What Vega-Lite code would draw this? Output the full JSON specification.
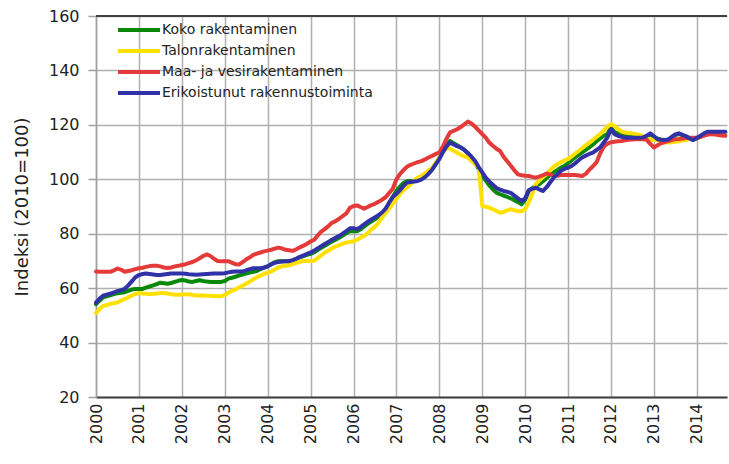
{
  "$schema": "https://vega.github.io/schema/vega-lite/v6.json",
  "width": 631,
  "height": 381,
  "autosize": {"type": "none"},
  "padding": {"left": 96, "top": 16, "right": 2, "bottom": 67},
  "background": "white",
  "config": {"font": "DejaVu Sans", "view": {"stroke": null}},
  "datasets": {
    "names": [
      {"k": "G", "name": "Koko rakentaminen"},
      {"k": "Y", "name": "Talonrakentaminen"},
      {"k": "R", "name": "Maa- ja vesirakentaminen"},
      {"k": "B", "name": "Erikoistunut rakennustoiminta"}
    ],
    "idx": [
      {"d":"2000-01","G":54.1,"Y":50.9,"R":66.1,"B":54.7},
      {"d":"2000-02","G":55.5,"Y":52.3,"R":66.0,"B":56.2},
      {"d":"2000-03","G":56.6,"Y":53.4,"R":66.0,"B":57.2},
      {"d":"2000-04","G":57.0,"Y":53.8,"R":66.0,"B":57.6},
      {"d":"2000-05","G":57.4,"Y":54.2,"R":66.0,"B":58.0},
      {"d":"2000-06","G":57.8,"Y":54.5,"R":66.5,"B":58.4},
      {"d":"2000-07","G":58.1,"Y":54.7,"R":67.2,"B":58.9},
      {"d":"2000-08","G":58.3,"Y":55.4,"R":66.8,"B":59.3},
      {"d":"2000-09","G":58.5,"Y":56.0,"R":66.0,"B":59.7},
      {"d":"2000-10","G":59.0,"Y":56.6,"R":66.3,"B":61.0},
      {"d":"2000-11","G":59.5,"Y":57.3,"R":66.6,"B":62.5},
      {"d":"2000-12","G":59.7,"Y":57.8,"R":67.0,"B":64.0},
      {"d":"2001-01","G":59.7,"Y":58.2,"R":67.3,"B":64.8},
      {"d":"2001-02","G":59.7,"Y":58.0,"R":67.5,"B":65.2},
      {"d":"2001-03","G":60.2,"Y":57.9,"R":67.8,"B":65.4},
      {"d":"2001-04","G":60.6,"Y":57.8,"R":68.1,"B":65.2},
      {"d":"2001-05","G":61.0,"Y":57.9,"R":68.2,"B":65.0},
      {"d":"2001-06","G":61.5,"Y":58.0,"R":68.2,"B":64.8},
      {"d":"2001-07","G":62.0,"Y":58.2,"R":68.0,"B":64.8},
      {"d":"2001-08","G":61.8,"Y":58.2,"R":67.6,"B":65.0},
      {"d":"2001-09","G":61.6,"Y":58.0,"R":67.4,"B":65.2},
      {"d":"2001-10","G":61.9,"Y":57.8,"R":67.6,"B":65.4},
      {"d":"2001-11","G":62.3,"Y":57.6,"R":68.0,"B":65.4},
      {"d":"2001-12","G":62.7,"Y":57.6,"R":68.2,"B":65.4},
      {"d":"2002-01","G":63.0,"Y":57.7,"R":68.5,"B":65.4},
      {"d":"2002-02","G":62.8,"Y":57.8,"R":68.8,"B":65.3},
      {"d":"2002-03","G":62.4,"Y":57.8,"R":69.2,"B":65.1},
      {"d":"2002-04","G":62.3,"Y":57.5,"R":69.6,"B":65.0},
      {"d":"2002-05","G":62.6,"Y":57.3,"R":70.2,"B":64.9},
      {"d":"2002-06","G":62.9,"Y":57.3,"R":71.0,"B":65.0},
      {"d":"2002-07","G":62.6,"Y":57.3,"R":71.8,"B":65.1},
      {"d":"2002-08","G":62.4,"Y":57.2,"R":72.4,"B":65.2},
      {"d":"2002-09","G":62.3,"Y":57.2,"R":71.8,"B":65.3},
      {"d":"2002-10","G":62.3,"Y":57.1,"R":70.8,"B":65.4},
      {"d":"2002-11","G":62.3,"Y":57.0,"R":70.0,"B":65.4},
      {"d":"2002-12","G":62.3,"Y":57.0,"R":69.9,"B":65.4},
      {"d":"2003-01","G":62.6,"Y":57.5,"R":69.9,"B":65.5},
      {"d":"2003-02","G":63.5,"Y":58.3,"R":69.9,"B":65.8},
      {"d":"2003-03","G":63.8,"Y":59.0,"R":69.4,"B":66.0},
      {"d":"2003-04","G":64.2,"Y":59.5,"R":68.8,"B":66.1},
      {"d":"2003-05","G":64.6,"Y":60.2,"R":68.7,"B":66.1},
      {"d":"2003-06","G":65.0,"Y":60.9,"R":69.5,"B":66.1},
      {"d":"2003-07","G":65.4,"Y":61.6,"R":70.5,"B":66.5},
      {"d":"2003-08","G":65.7,"Y":62.4,"R":71.3,"B":67.0},
      {"d":"2003-09","G":66.0,"Y":63.3,"R":72.2,"B":67.3},
      {"d":"2003-10","G":66.3,"Y":64.0,"R":72.7,"B":67.3},
      {"d":"2003-11","G":67.0,"Y":64.6,"R":73.1,"B":67.3},
      {"d":"2003-12","G":67.6,"Y":65.2,"R":73.5,"B":67.5},
      {"d":"2004-01","G":68.0,"Y":65.7,"R":73.8,"B":68.0},
      {"d":"2004-02","G":68.8,"Y":66.1,"R":74.1,"B":68.8},
      {"d":"2004-03","G":69.5,"Y":66.8,"R":74.5,"B":69.3},
      {"d":"2004-04","G":69.9,"Y":67.6,"R":74.9,"B":69.6},
      {"d":"2004-05","G":69.9,"Y":68.0,"R":74.6,"B":69.8},
      {"d":"2004-06","G":69.9,"Y":68.2,"R":74.1,"B":69.9},
      {"d":"2004-07","G":69.9,"Y":68.4,"R":73.9,"B":69.9},
      {"d":"2004-08","G":70.2,"Y":68.8,"R":73.7,"B":70.3},
      {"d":"2004-09","G":70.8,"Y":69.3,"R":74.3,"B":70.8},
      {"d":"2004-10","G":71.3,"Y":69.7,"R":75.0,"B":71.5},
      {"d":"2004-11","G":71.8,"Y":70.0,"R":75.6,"B":72.0},
      {"d":"2004-12","G":72.2,"Y":70.0,"R":76.3,"B":72.6},
      {"d":"2005-01","G":72.6,"Y":70.0,"R":77.2,"B":73.1},
      {"d":"2005-02","G":73.2,"Y":70.1,"R":77.8,"B":73.8},
      {"d":"2005-03","G":74.0,"Y":71.0,"R":79.3,"B":74.6},
      {"d":"2005-04","G":74.8,"Y":72.0,"R":80.8,"B":75.4},
      {"d":"2005-05","G":75.6,"Y":73.1,"R":81.7,"B":76.2},
      {"d":"2005-06","G":76.4,"Y":73.8,"R":82.8,"B":77.0},
      {"d":"2005-07","G":77.1,"Y":74.6,"R":84.0,"B":77.8},
      {"d":"2005-08","G":77.8,"Y":75.3,"R":84.6,"B":78.5},
      {"d":"2005-09","G":78.5,"Y":75.8,"R":85.5,"B":79.2},
      {"d":"2005-10","G":79.3,"Y":76.3,"R":86.5,"B":80.0},
      {"d":"2005-11","G":80.2,"Y":76.8,"R":87.5,"B":81.0},
      {"d":"2005-12","G":80.9,"Y":77.0,"R":89.5,"B":82.0},
      {"d":"2006-01","G":81.0,"Y":77.2,"R":90.2,"B":82.0},
      {"d":"2006-02","G":80.9,"Y":77.8,"R":90.4,"B":81.7},
      {"d":"2006-03","G":81.6,"Y":78.5,"R":89.8,"B":82.4},
      {"d":"2006-04","G":82.6,"Y":79.2,"R":89.2,"B":83.4},
      {"d":"2006-05","G":83.6,"Y":80.2,"R":89.8,"B":84.4},
      {"d":"2006-06","G":84.5,"Y":81.5,"R":90.5,"B":85.2},
      {"d":"2006-07","G":85.3,"Y":82.5,"R":91.0,"B":86.0},
      {"d":"2006-08","G":86.2,"Y":84.0,"R":91.7,"B":86.8},
      {"d":"2006-09","G":87.2,"Y":86.0,"R":92.5,"B":87.8},
      {"d":"2006-10","G":88.8,"Y":87.6,"R":93.4,"B":89.2},
      {"d":"2006-11","G":91.2,"Y":89.3,"R":95.0,"B":91.5},
      {"d":"2006-12","G":93.5,"Y":91.0,"R":96.5,"B":93.5},
      {"d":"2007-01","G":95.8,"Y":92.8,"R":100.0,"B":94.6},
      {"d":"2007-02","G":97.3,"Y":94.6,"R":102.0,"B":96.0},
      {"d":"2007-03","G":98.6,"Y":96.0,"R":103.3,"B":97.5},
      {"d":"2007-04","G":99.3,"Y":97.0,"R":104.6,"B":98.8},
      {"d":"2007-05","G":99.4,"Y":98.2,"R":105.3,"B":99.0},
      {"d":"2007-06","G":99.5,"Y":99.6,"R":105.8,"B":99.2},
      {"d":"2007-07","G":99.7,"Y":100.6,"R":106.3,"B":99.4},
      {"d":"2007-08","G":100.2,"Y":101.2,"R":106.7,"B":99.9},
      {"d":"2007-09","G":101.0,"Y":102.2,"R":107.3,"B":100.8},
      {"d":"2007-10","G":102.2,"Y":103.2,"R":108.0,"B":102.0},
      {"d":"2007-11","G":103.6,"Y":104.2,"R":108.6,"B":103.5},
      {"d":"2007-12","G":105.6,"Y":106.0,"R":109.3,"B":105.5},
      {"d":"2008-01","G":107.8,"Y":108.0,"R":109.8,"B":107.4},
      {"d":"2008-02","G":110.5,"Y":109.8,"R":112.0,"B":110.0},
      {"d":"2008-03","G":112.5,"Y":111.5,"R":114.8,"B":112.0},
      {"d":"2008-04","G":114.1,"Y":111.2,"R":117.2,"B":113.5},
      {"d":"2008-05","G":113.3,"Y":110.5,"R":117.8,"B":112.8},
      {"d":"2008-06","G":112.5,"Y":109.8,"R":118.4,"B":112.2},
      {"d":"2008-07","G":111.7,"Y":109.0,"R":119.2,"B":111.7},
      {"d":"2008-08","G":110.8,"Y":108.4,"R":120.2,"B":110.8},
      {"d":"2008-09","G":109.6,"Y":108.0,"R":121.2,"B":109.6},
      {"d":"2008-10","G":108.0,"Y":106.8,"R":120.5,"B":108.3},
      {"d":"2008-11","G":106.2,"Y":105.5,"R":119.3,"B":106.7},
      {"d":"2008-12","G":103.8,"Y":104.5,"R":118.0,"B":104.5},
      {"d":"2009-01","G":101.2,"Y":90.2,"R":116.6,"B":102.5},
      {"d":"2009-02","G":99.5,"Y":89.9,"R":115.2,"B":100.5},
      {"d":"2009-03","G":97.8,"Y":89.6,"R":113.5,"B":99.2},
      {"d":"2009-04","G":96.3,"Y":89.0,"R":112.3,"B":98.0},
      {"d":"2009-05","G":95.1,"Y":88.4,"R":111.2,"B":96.8},
      {"d":"2009-06","G":94.5,"Y":87.7,"R":110.4,"B":96.2},
      {"d":"2009-07","G":94.0,"Y":88.0,"R":108.3,"B":95.7},
      {"d":"2009-08","G":93.5,"Y":88.6,"R":106.6,"B":95.4},
      {"d":"2009-09","G":93.0,"Y":89.0,"R":105.0,"B":95.0},
      {"d":"2009-10","G":92.3,"Y":88.6,"R":103.3,"B":94.0},
      {"d":"2009-11","G":91.6,"Y":88.3,"R":101.8,"B":93.0},
      {"d":"2009-12","G":90.8,"Y":88.3,"R":101.5,"B":92.0},
      {"d":"2010-01","G":92.5,"Y":89.0,"R":101.3,"B":93.0},
      {"d":"2010-02","G":95.7,"Y":91.5,"R":101.2,"B":96.0},
      {"d":"2010-03","G":96.7,"Y":94.5,"R":100.9,"B":96.5},
      {"d":"2010-04","G":97.7,"Y":98.2,"R":100.6,"B":96.9},
      {"d":"2010-05","G":98.2,"Y":99.5,"R":101.0,"B":96.3},
      {"d":"2010-06","G":99.3,"Y":100.8,"R":101.5,"B":95.7},
      {"d":"2010-07","G":100.5,"Y":101.8,"R":102.1,"B":97.0},
      {"d":"2010-08","G":101.5,"Y":103.3,"R":101.8,"B":98.8},
      {"d":"2010-09","G":102.5,"Y":104.6,"R":101.2,"B":100.6},
      {"d":"2010-10","G":103.4,"Y":105.5,"R":101.3,"B":101.8},
      {"d":"2010-11","G":104.3,"Y":106.3,"R":101.6,"B":103.1},
      {"d":"2010-12","G":104.9,"Y":107.0,"R":101.6,"B":103.8},
      {"d":"2011-01","G":105.9,"Y":107.4,"R":101.6,"B":104.3},
      {"d":"2011-02","G":107.0,"Y":108.4,"R":101.6,"B":104.9},
      {"d":"2011-03","G":108.0,"Y":109.4,"R":101.6,"B":105.8},
      {"d":"2011-04","G":109.0,"Y":110.4,"R":101.4,"B":107.0},
      {"d":"2011-05","G":109.9,"Y":111.4,"R":101.2,"B":108.0},
      {"d":"2011-06","G":110.8,"Y":112.5,"R":102.0,"B":108.7},
      {"d":"2011-07","G":111.7,"Y":113.5,"R":103.5,"B":109.3},
      {"d":"2011-08","G":112.8,"Y":114.5,"R":104.8,"B":109.8},
      {"d":"2011-09","G":114.0,"Y":115.6,"R":106.3,"B":110.8},
      {"d":"2011-10","G":115.0,"Y":116.6,"R":109.5,"B":111.7},
      {"d":"2011-11","G":116.0,"Y":118.0,"R":112.0,"B":113.5},
      {"d":"2011-12","G":116.6,"Y":119.3,"R":113.0,"B":115.3},
      {"d":"2012-01","G":119.0,"Y":120.2,"R":113.6,"B":118.4},
      {"d":"2012-02","G":117.4,"Y":119.6,"R":113.8,"B":116.6},
      {"d":"2012-03","G":116.8,"Y":118.5,"R":114.0,"B":116.0},
      {"d":"2012-04","G":116.5,"Y":117.5,"R":114.1,"B":115.6},
      {"d":"2012-05","G":116.2,"Y":117.2,"R":114.3,"B":115.3},
      {"d":"2012-06","G":116.0,"Y":117.0,"R":114.5,"B":115.3},
      {"d":"2012-07","G":115.8,"Y":116.8,"R":114.6,"B":115.3},
      {"d":"2012-08","G":115.6,"Y":116.6,"R":114.7,"B":115.3},
      {"d":"2012-09","G":115.4,"Y":116.3,"R":114.7,"B":115.3},
      {"d":"2012-10","G":115.4,"Y":115.7,"R":114.7,"B":115.4},
      {"d":"2012-11","G":115.8,"Y":115.0,"R":114.5,"B":116.0},
      {"d":"2012-12","G":116.5,"Y":114.6,"R":113.0,"B":116.9},
      {"d":"2013-01","G":115.6,"Y":114.4,"R":111.7,"B":115.8},
      {"d":"2013-02","G":114.9,"Y":114.4,"R":112.5,"B":114.7},
      {"d":"2013-03","G":114.6,"Y":114.0,"R":113.2,"B":114.5},
      {"d":"2013-04","G":114.4,"Y":113.7,"R":113.6,"B":114.4},
      {"d":"2013-05","G":114.5,"Y":113.5,"R":114.0,"B":114.6},
      {"d":"2013-06","G":115.3,"Y":113.6,"R":114.4,"B":115.6},
      {"d":"2013-07","G":116.2,"Y":113.8,"R":114.7,"B":116.5},
      {"d":"2013-08","G":116.6,"Y":114.0,"R":114.8,"B":116.9},
      {"d":"2013-09","G":116.2,"Y":114.2,"R":115.0,"B":116.3},
      {"d":"2013-10","G":115.8,"Y":114.5,"R":115.2,"B":115.8},
      {"d":"2013-11","G":115.1,"Y":114.8,"R":115.3,"B":115.0},
      {"d":"2013-12","G":114.6,"Y":115.0,"R":115.3,"B":114.4},
      {"d":"2014-01","G":115.0,"Y":115.1,"R":115.3,"B":115.2},
      {"d":"2014-02","G":115.7,"Y":115.6,"R":115.5,"B":116.0},
      {"d":"2014-03","G":116.4,"Y":116.2,"R":116.0,"B":116.8},
      {"d":"2014-04","G":117.0,"Y":116.6,"R":116.4,"B":117.5},
      {"d":"2014-05","G":117.2,"Y":116.6,"R":116.6,"B":117.5},
      {"d":"2014-06","G":117.2,"Y":116.6,"R":116.5,"B":117.5},
      {"d":"2014-07","G":117.2,"Y":116.6,"R":116.3,"B":117.5},
      {"d":"2014-08","G":117.2,"Y":116.6,"R":116.1,"B":117.5},
      {"d":"2014-09","G":117.2,"Y":116.6,"R":116.0,"B":117.5}
    ]
  },
  "layer": [
    {
      "data": {"name": "idx"},
      "transform": [
        {"fold": ["G", "Y", "R", "B"], "as": ["k", "v"]},
        {"lookup": "k", "from": {"data": {"name": "names"}, "key": "k", "fields": ["name"]}}
      ],
      "mark": {"type": "line", "strokeWidth": 4, "strokeJoin": "round", "strokeCap": "round"},
      "encoding": {
        "x": {
          "field": "d",
          "type": "temporal",
          "scale": {
            "type": "utc",
            "domain": [
              {"year": 2000, "month": 1, "date": 1, "utc": true},
              {"year": 2014, "month": 9, "date": 15, "utc": true}
            ]
          },
          "axis": {
            "title": null,
            "tickCount": {"interval": "year", "step": 1},
            "labelExpr": "utcFormat(datum.value, '%Y')",
            "grid": true,
            "gridColor": "#b0b0b0",
            "gridWidth": 1.5,
            "ticks": false,
            "tickSize": 0,
            "domainColor": "#404040",
            "domainWidth": 2,
            "labelAngle": -90,
            "labelFont": "DejaVu Sans",
            "labelFontSize": 16,
            "labelColor": "#222222",
            "labelPadding": 6,
            "labelFlush": false,
            "labelOverlap": false
          }
        },
        "y": {
          "field": "v",
          "type": "quantitative",
          "scale": {"domain": [20, 160], "nice": false, "zero": false},
          "axis": {
            "title": "Indeksi (2010=100)",
            "values": [20, 40, 60, 80, 100, 120, 140, 160],
            "grid": true,
            "gridColor": "#b0b0b0",
            "gridWidth": 1.5,
            "domainColor": "#a0a0a0",
            "domainWidth": 1.5,
            "tickColor": "#a0a0a0",
            "tickWidth": 1.5,
            "tickSize": 8,
            "labelFont": "DejaVu Sans",
            "labelFontSize": 16,
            "labelColor": "#222222",
            "labelPadding": 9,
            "titleFont": "DejaVu Sans",
            "titleFontSize": 18,
            "titleFontWeight": "normal",
            "titleColor": "#222222",
            "titlePadding": 17
          }
        },
        "color": {
          "field": "name",
          "type": "nominal",
          "scale": {
            "domain": ["Koko rakentaminen", "Talonrakentaminen", "Maa- ja vesirakentaminen", "Erikoistunut rakennustoiminta"],
            "range": ["#0a880a", "#ffe000", "#e53a3a", "#3232a8"]
          },
          "legend": {
            "title": null,
            "orient": "none",
            "legendX": 20,
            "legendY": 7,
            "padding": 0,
            "symbolType": "M-1,0H7.4",
            "symbolSize": 100,
            "symbolStrokeWidth": 4,
            "labelFont": "DejaVu Sans",
            "labelFontSize": 14,
            "labelColor": "#222222",
            "labelOffset": 32,
            "labelLimit": 400,
            "rowPadding": 5
          }
        }
      }
    },
    {
      "data": {"values": [{}]},
      "mark": {"type": "rule", "color": "#404040", "strokeWidth": 2},
      "encoding": {"y": {"datum": 160}}
    }
  ]
}
